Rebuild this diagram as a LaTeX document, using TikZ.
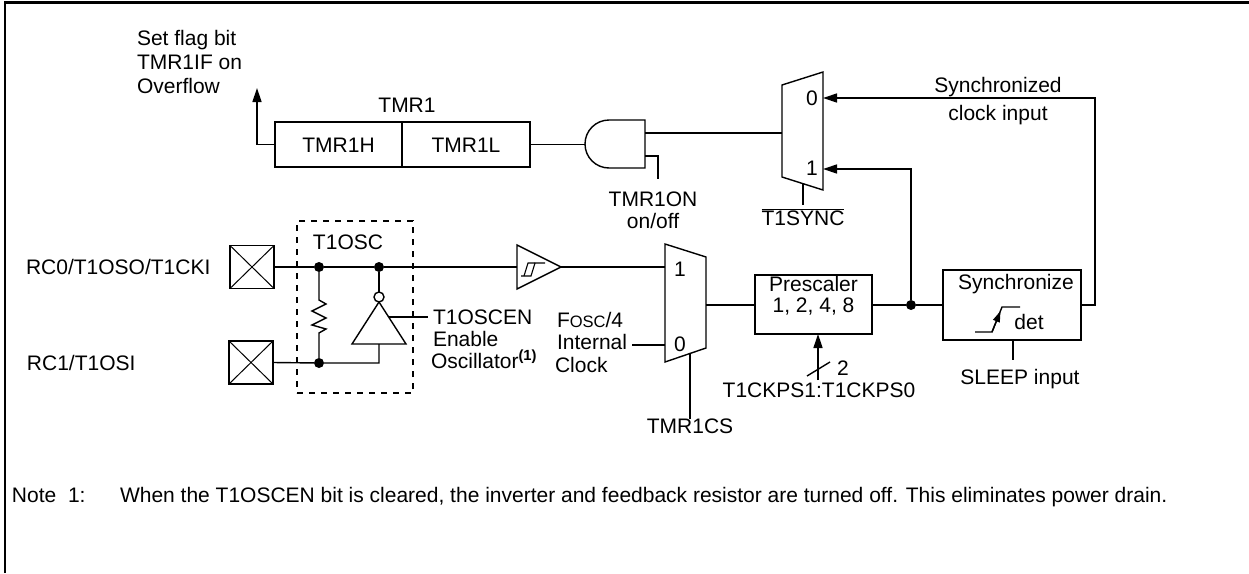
\documentclass[tikz,border=0pt]{standalone}
\usepackage{fontspec}
\setmainfont{Liberation Sans}
\usetikzlibrary{arrows.meta}
\begin{document}
\begin{tikzpicture}[x=1pt,y=-1pt,
  every node/.style={inner sep=0pt, outer sep=0pt},
  font=\fontsize{21}{24}\selectfont,
  lab/.style={text height=15pt, text depth=0pt},
  wire/.style={line width=1.4pt},
  thin/.style={line width=1.1pt},
  arr/.style={wire,-{Triangle[length=14pt,width=9pt]}},
  box/.style={draw, line width=1.4pt, text height=15pt, text depth=0pt},
  jdot/.style={circle, fill, minimum size=10pt},
  pad/.style={draw, line width=1.4pt, minimum width=44pt, minimum height=43pt,
    path picture={\draw[line width=1pt] (path picture bounding box.south west) -- (path picture bounding box.north east)
      (path picture bounding box.north west) -- (path picture bounding box.south east);}},
  ]
\useasboundingbox (0,0) rectangle (1249,573);
% frame
\draw[line width=2.6pt] (5,573) -- (5,2.5) -- (1249,2.5);

% ---------- top row ----------
\node[lab, anchor=west] (flag1) at (137,38) {Set flag bit};
\node[lab, anchor=west] (flag2) at (137,62) {TMR1IF on};
\node[lab, anchor=west] (flag3) at (137,86) {Overflow};
\coordinate (flag) at (257,88);

\node[box, minimum width=127pt, minimum height=45pt] (tmrh) at (338.5,144.5) {TMR1H};
\node[box, minimum width=128pt, minimum height=45pt] (tmrl) at (466,144.5) {TMR1L};
\node[lab] (tmr1) at (407,105) {TMR1};
\draw[arr] (tmrh.west) -| (flag);

% AND gate
\draw[wire] (645,120) -- (609,120) arc[start angle=270, end angle=90, radius=24] -- (645,168) -- cycle;
\coordinate (andout) at (585,144.5);
\coordinate (andin1) at (645,133);
\coordinate (andin2) at (645,156);
\coordinate (onoff) at (658,179);
\draw[wire] (tmrl.east) -- (andout);
\draw[wire] (andin2) -| (onoff);
\node[lab] (tmr1on) at (653,199) {TMR1ON};
\node[lab] (onofflbl) at (653,221) {on/off};

% sync mux
\draw[wire] (782,85) -- (823,72) -- (823,190) -- (782,177) -- cycle;
\coordinate (m1in) at (782,133);
\coordinate (m1zero) at (823,98);
\coordinate (m1one) at (823,169);
\coordinate (m1sel) at (803,183.7);
\coordinate (t1syncend) at (803,205);
\node[lab] (m1z) at (812,98) {0};
\node[lab] (m1o) at (812,168) {1};
\draw[wire] (andin1) -- (m1in);
\draw[wire] (m1sel) -- (t1syncend);
\node[lab] (t1sync) at (803,218) {$\overline{\mbox{T1SYNC}}$};

\node[lab] (synclk1) at (998,85) {Synchronized};
\node[lab] (synclk2) at (998,113) {clock input};

% ---------- oscillator ----------
\node[lab, anchor=west] (rc0) at (26,267) {RC0/T1OSO/T1CKI};
\node[lab, anchor=west] (rc1) at (27,363) {RC1/T1OSI};
\node[pad] (pad0) at (252,267) {};
\node[pad] (pad1) at (251,362.5) {};

\node[draw, line width=1.2pt, dash pattern=on 6pt off 6pt, minimum width=116pt, minimum height=172pt] (oscbox) at (355,307) {};
\node[lab] (t1osc) at (348,242) {T1OSC};

\node[jdot] (d1) at (319,267) {};
\node[jdot] (d2) at (379,267) {};
\node[jdot] (d3) at (319,363) {};

% Schmitt buffer
\draw[wire] (517,245) -- (517,289) -- (561,267) -- cycle;
\draw[thin] (521,276) -- (531,276) -- (535,263) -- (545,263);
\draw[thin] (524,276) -- (528,263) -- (535,263);
\coordinate (schin) at (517,267);
\coordinate (schout) at (561,267);

\draw[wire] (pad0.east) -- (d1) -- (d2) -- (schin);
% resistor
\draw[wire] (d1) -- (319,300) -- (326,304) -- (312,311) -- (326,318) -- (312,325) -- (326,329) -- (319,333) -- (d3);

% inverter
\draw[wire] (352,344) -- (406,344) -- (379,302) -- cycle;
\node[circle, draw, line width=1.4pt, minimum size=10pt] (bub) at (379,297) {};
\coordinate (invin) at (379,344);
\draw[wire] (bub.north) -- (d2);
\draw[wire] (pad1.east) -- (d3) -| (invin);
\coordinate (enin) at (388.6,317);
\coordinate (enend) at (428,317);
\draw[wire] (enin) -- (enend);
\node[lab, anchor=west] (t1oscen) at (433,317) {T1OSCEN};
\node[lab, anchor=west] (enable) at (433,339) {Enable};
\node[lab, anchor=west] (oscil) at (431,361) {Oscillator\textsuperscript{\bfseries(1)}};

% clock mux
\draw[wire] (665,244) -- (706,257) -- (706,348) -- (665,362) -- cycle;
\node[lab] (m2o) at (680,269) {1};
\node[lab] (m2z) at (680,344) {0};
\coordinate (m2in1) at (665,267);
\coordinate (m2in0) at (665,345);
\coordinate (m2out) at (706,305);
\coordinate (m2sel) at (690,353.5);
\coordinate (fosc) at (632,345);
\draw[wire] (schout) -- (m2in1);
\draw[wire] (fosc) -- (m2in0);
\node[lab, anchor=west] (fosclbl) at (557,320) {F{\fontsize{16.5}{18}\selectfont OSC}/4};
\node[lab, anchor=west] (intlbl) at (557,342) {Internal};
\node[lab, anchor=west] (clklbl) at (555,365) {Clock};
\node[lab] (tmr1cs) at (690,426) {TMR1CS};
\draw[wire] (m2sel) -- (tmr1cs.north);

% prescaler
\node[box, minimum width=117pt, minimum height=59pt, align=center, font=\fontsize{21}{21}\selectfont] (pre) at (813.5,304.5) {Prescaler\\1, 2, 4, 8};
\draw[wire] (m2out) -- (pre.west |- m2out);
\node[lab] (ckps) at (819,390) {T1CKPS1:T1CKPS0};
\coordinate (ckpsin) at (818,380);
\draw[arr] (ckpsin) -- (ckpsin |- pre.south);
\draw[wire] (807,376) -- (830,362);
\node[lab] (two) at (843,368) {2};

% synchronize
\node[box, minimum width=138pt, minimum height=70pt] (sync) at (1012,305) {};
\node[lab] (synclbl) at (1016,282) {Synchronize};
\draw[wire] (975,332) -- (992,332) -- (1002,307) -- (1020,307);
\draw[wire, -{Triangle[length=11pt,width=7pt]}] (992,332) -- (1000.5,311);
\node[lab] (det) at (1029,322) {det};
\node[lab] (sleep) at (1020,377) {SLEEP input};
\coordinate (sleepin) at (1013,360);
\draw[wire] (sleepin |- sync.south) -- (sleepin);

\node[jdot] (d4) at (911,305) {};
\draw[wire] (pre.east |- m2out) -- (d4) -- (sync.west |- d4);
\draw[arr] (d4) |- (m1one);
\draw[arr] (sync.east |- d4) -| (1095,200) |- (m1zero);

% note
\node[lab, anchor=west] (note) at (12,495) {Note\ \ 1:};
\node[lab, anchor=west] (notetxt) at (120,495) {When the T1OSCEN bit is cleared, the inverter and feedback resistor are turned off. This eliminates power drain.};
\end{tikzpicture}
\end{document}
